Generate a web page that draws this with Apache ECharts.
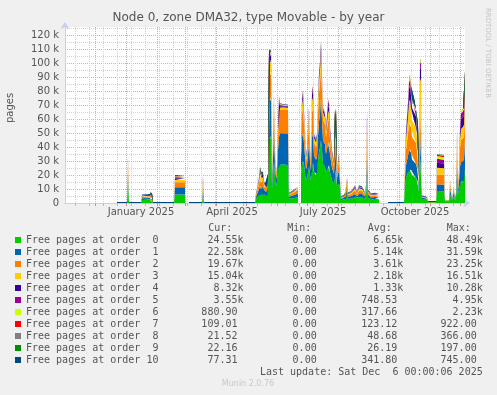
<!DOCTYPE html>
<html>
<head>
<meta charset="utf-8">
<script src="https://cdn.jsdelivr.net/npm/echarts@6/dist/echarts.min.js"></script>
<style>
html,body{margin:0;padding:0;background:#F0F0F0;}
#c{width:497px;height:395px;}
</style>
</head>
<body>
<div id="c"></div>
<script>
// ---- days since 2024-11-01 (x positions of samples) ----
const days = [52,62,63,64,76,77,85,86,87,88,
109,110,120,121,123,124,137,138,139,190,
191,192,193,194,195,196,197,198,199,200,
201,202,203,204,205,206,207,208,209,210,
211,212,213,214,215,218,223,224,229,233,
234,235,236,237,238,239,241,242,244,245,
246,247,248,249,251,252,253,254,255,256,
257,258,260,261,263,264,265,267,269,270,
271,272,274,275,276,279,281,282,283,286,
288,290,292,294,297,300,301,302,303,306,
310,314,315,322,323,339,340,341,343,344,
345,346,347,349,351,352,353,354,355,356,
357,362,363,371,372,379,380,384,385,386,
387,389,390,391,392,393,394,395,396,398,
399,400];

// ---- free pages (thousands) per order ----
const order0 = [0,0,14,0,0,2.2,2.3,2.9,2.7,0,
0,6.0,6.0,null,null,0,0,5,0,0,
3,4,5,6,7,6,6.5,7,6,5.5,
5,5,8,47.5,48.0,46,10,20,30,18,
12,15,24,28,27.5,27.5,27.2,3,3.5,4,
null,null,20,28,30,27,16,18,26,20,
16,28,29,22,20,21,30,36,40,45,
38,28,26,22,26,27,22,16,14,24,
24,12,14,10,2,2.5,3,6,3,3,
3.5,4,3,4,4,3,5,18,4,2.6,
2.8,2.6,null,null,0,0,12,18,22,25,
25.3,24,20,20,18,16,15,8,35,34,
3,2.5,0.5,0.5,8.6,8.4,1.2,1.2,6,4,
2,5,2,4,15,6,10,14,15,15.5,
16,24.55];
const order1 = [0,0,6,0,0,1.2,1.2,1.7,1.5,0,
0,5.2,5.2,null,null,0,0,4,0,0,
1.5,2.2,3,4,5,4,4.5,5,3.5,3,
3,2.8,5,27.5,27.5,27,4,12,22,10,
5,6,14,19,22.5,22.5,22.5,1.5,2.2,2.8,
null,null,12,19,20,16,8,9,17,10,
7,19,20,12,11,12,18,22,24,30,
22,17,16,13,17,17,13,9,7,16,
16,6,9,5,1,1.2,1.5,4,1.6,1.8,
2.2,2.5,1.8,2.5,2.4,1.6,3,15,2,1.4,
1.5,1.4,null,null,0,0,6,9,12,13,
13.5,12,11,11,10,9,9,4,20,20,
1,0.5,0.1,0.1,4.8,4.7,0.3,0.3,4.5,2.5,
0.6,3,0.6,2,12,3,6,12,14,14.5,
15,22.58];
const order2 = [0,0,7,0,0,1.0,1.1,1.6,1.4,0,
0,3.7,3.7,null,null,0,0,4.5,0,0,
1.2,1.8,2.8,3.8,5.5,4.5,4,4.5,2.8,2.3,
2.5,2,4,18.5,18.6,18.5,2,8,16,6,
2.5,3,10,16,16.5,17,17,1.2,1.8,2.6,
null,null,9,16,18,14,6,7,16,7,
5,18,18.5,9,9,10,17,21,22,23,
20,15,14,12,15,16,11,7,5,14,
14,3.5,7,3,0.6,0.8,1.2,4,1.3,1.5,
2,2.5,1.5,2.5,2.3,1.3,2.5,15,1.5,1.1,
1.2,1.1,null,null,0,0,6,11,16,19,
19.5,18,16,16,15,12,12,3,20,20,
0.5,0.3,0.05,0.05,7.1,7,0.2,0.2,3.5,2,
0.3,2.5,0.3,1,12,2,5,13,16,16,
16,19.67];
const order3 = [0,0,4,0,0,0.5,0.5,0.8,0.8,0,
0,1.6,1.6,null,null,0,0,3,0,0,
0.6,0.9,1.5,2.2,3.5,2.8,2.5,2.5,1.5,1.2,
1.2,1,2,8.5,8.6,8.5,1,3,6,2.5,
1,1.2,4,6,1.8,1.5,1.5,0.6,0.9,1.5,
null,null,4,7,7,5,2.5,3,6,2.5,
2,8,8,3.5,3.5,4,8,9,9,10,
7,5,5,4,6,6,4,3,2,7,
7,1.5,3,1.2,0.3,0.4,0.6,2,0.7,0.8,
1,1.5,0.8,1.5,1.3,0.7,1.2,9,0.8,0.6,
0.6,0.6,null,null,0,0,4,8,12,15,
16,14,12,12,11,9,10,1.5,14,13,
0.2,0.2,0,0,4.8,4.7,0.1,0.1,1.5,0.8,
0.1,1,0.1,0.4,8,0.8,2.5,7,8,8.5,
9,15.04];
const order4 = [0,0,2,0,0,0.2,0.2,0.3,0.3,0,
0,1.3,1.3,null,null,0,0,1.5,0,0,
0.3,0.4,0.6,1.2,2.5,1.8,1.5,1.8,0.8,0.5,
0.6,0.5,1,5,4.8,4.8,0.4,1.5,3,1,
0.5,0.5,2,4,1.0,0.8,0.8,0.3,0.4,0.6,
null,null,2,3.5,3.5,2.5,1,1.2,2.5,1,
0.8,5,5,1.5,1.5,1.5,3,3.5,4,6,
3,2,2,1.8,4,4,2.5,1.5,1,4,
4.5,0.6,1.5,0.5,0.1,0.2,0.3,1.5,0.3,0.4,
0.6,0.8,0.4,0.8,0.7,0.3,0.5,6,0.4,0.3,
0.3,0.3,null,null,0,0,2,4,7,9.5,
10,9,9,9.5,8,6,7,0.8,9,9,
0.1,0.1,0,0,3.6,3.5,0.05,0.05,0.7,0.3,
0.05,0.4,0.05,0.2,4,0.4,1,5,7,7,
7,8.32];
const order5 = [0,0,1,0,0,0.1,0.1,0.15,0.15,0,
0,0.6,0.6,null,null,0,0,1,0,0,
0.1,0.2,0.3,0.6,1.6,1,0.6,0.8,0.3,0.2,
0.2,0.2,0.4,1.6,1.7,1.6,0.2,0.5,1,0.4,
0.2,0.2,0.8,2.5,0.8,0.5,0.5,0.1,0.15,0.2,
null,null,0.8,1.5,1.6,1,0.4,0.5,1,0.4,
0.3,2,2,0.6,0.5,0.6,1,1.2,1.5,2.2,
1,0.8,0.8,0.7,3,3.2,1.5,0.6,0.4,1.5,
1.5,0.2,0.6,0.2,0.05,0.1,0.1,1,0.1,0.2,
0.3,0.5,0.2,0.4,0.3,0.15,0.2,3,0.2,0.1,
0.2,0.1,null,null,0,0,0.8,1.5,2.5,4.5,
4.9,4.5,4.5,4.6,3.5,2.5,2.5,0.3,3.5,3.5,
0.05,0.05,0,0,2.8,2.7,0.02,0.02,0.3,0.1,
0.02,0.1,0.02,0.1,1.5,0.2,0.4,2.5,4,4,
3.8,3.55];
const order6 = [0,0,0.4,0,0,0.05,0.05,0.05,0.05,0,
0,0.4,0.4,null,null,0,0,0.4,0,0,
0.05,0.1,0.1,0.2,0.6,0.3,0.2,0.3,0.1,0.1,
0.1,0.1,0.1,0.6,0.6,0.6,0.1,0.2,0.4,0.2,
0.1,0.1,0.3,0.5,0.6,0.4,0.4,0.05,0.05,0.1,
null,null,0.3,0.5,0.5,0.4,0.2,0.2,0.4,0.2,
0.1,0.6,0.6,0.2,0.2,0.2,0.3,0.4,0.5,0.8,
0.4,0.3,0.3,0.3,0.6,0.6,0.4,0.2,0.2,0.6,
0.6,0.1,0.2,0.1,0.02,0.05,0.05,0.3,0.05,0.1,
0.1,0.2,0.1,0.2,0.1,0.05,0.1,1,0.1,0.05,
0.05,0.05,null,null,0,0,0.3,0.5,1,2,
2.2,1.8,1.5,1.5,1.2,0.8,0.8,0.1,1.2,1.2,
0.02,0.02,0,0,1.9,1.8,0.01,0.01,0.1,0.05,
0.01,0.05,0.01,0.05,0.6,0.05,0.1,0.8,1.5,1.6,
1.4,0.881];
const order7 = [0,0,0.2,0,0,0.05,0.05,0.05,0.05,0,
0,0.3,0.3,null,null,0,0,0.2,0,0,
0.05,0.05,0.05,0.1,0.3,0.1,0.1,0.1,0.05,0.05,
0.05,0.05,0.05,0.3,0.3,0.3,0.05,0.1,0.2,0.1,
0.05,0.05,0.1,0.2,0.2,0.2,0.2,0.02,0.02,0.05,
null,null,0.1,0.2,0.2,0.2,0.1,0.1,0.2,0.1,
0.05,0.3,0.3,0.1,0.1,0.1,0.1,0.2,0.2,0.3,
0.2,0.1,0.1,0.1,0.2,0.2,0.1,0.1,0.1,0.2,
0.2,0.05,0.1,0.05,0.01,0.02,0.02,0.1,0.02,0.05,
0.05,0.1,0.05,0.1,0.05,0.02,0.05,0.4,0.05,0.02,
0.02,0.02,null,null,0,0,0.1,0.2,0.3,0.5,
0.5,0.4,0.4,0.4,0.3,0.2,0.2,0.05,0.3,0.3,
0.01,0.01,0,0,0.9,0.88,0,0,0.05,0.02,
0,0.02,0,0.02,0.2,0.02,0.05,0.1,0.1,0.1,
0.1,0.109];
const order8 = [0,0,0.1,0,0,0.02,0.02,0.02,0.02,0,
0,0.1,0.1,null,null,0,0,0.1,0,0,
0.02,0.02,0.02,0.05,0.1,0.05,0.05,0.05,0.02,0.02,
0.02,0.02,0.02,0.1,0.1,0.1,0.02,0.05,0.1,0.05,
0.02,0.02,0.05,0.1,0.1,0.1,0.1,0.01,0.01,0.02,
null,null,0.05,0.1,0.1,0.1,0.05,0.05,0.1,0.05,
0.02,0.1,0.1,0.05,0.05,0.05,0.05,0.1,0.1,0.1,
0.1,0.05,0.05,0.05,0.1,0.1,0.05,0.05,0.05,0.1,
0.1,0.02,0.05,0.02,0.01,0.01,0.01,0.05,0.01,0.02,
0.02,0.05,0.02,0.05,0.02,0.01,0.02,0.1,0.02,0.01,
0.01,0.01,null,null,0,0,0.05,0.1,0.1,0.2,
0.2,0.2,0.1,0.1,0.1,0.1,0.1,0.02,0.1,0.1,
0.01,0.01,0,0,0.35,0.33,0,0,0.02,0.01,
0,0.01,0,0.01,0.1,0.01,0.02,0.02,0.02,0.02,
0.02,0.0215];
const order9 = [0,0,0.05,0,0,0.01,0.01,0.01,0.01,0,
0,0.1,0.1,null,null,0,0,0.05,0,0,
0.02,0.02,0.02,0.02,0.05,0.02,0.02,0.02,0.02,0.02,
0.02,0.02,0.02,0.05,0.05,0.05,0.02,0.02,0.05,0.02,
0.02,0.02,0.02,0.05,0.05,0.05,0.05,0.01,0.01,0.01,
null,null,0.02,0.05,0.05,0.05,0.02,0.02,0.05,0.02,
0.02,0.05,0.05,0.02,0.02,0.02,0.02,0.05,0.05,0.05,
0.05,0.02,0.02,0.02,0.05,0.05,0.02,0.02,0.02,0.05,
0.05,0.02,0.02,0.02,0.01,0.01,0.01,0.02,0.01,0.01,
0.01,0.02,0.01,0.02,0.01,0.01,0.01,0.05,0.01,0.01,
0.01,0.01,null,null,0,0,0.02,0.05,0.05,0.1,
0.1,0.1,0.05,0.05,0.05,0.05,0.05,0.01,0.05,0.05,
0.01,0.01,0,0,0.19,0.18,0,0,0.01,0.01,
0,0.01,0,0.01,0.05,0.01,0.01,0.02,0.02,0.02,
0.02,0.0222];
const order10 = [0.74,0.74,0.74,0.74,0.74,0.7,0.7,0.7,0.7,0.74,
0.74,0.74,0.74,null,null,0.74,0.74,0.74,0.74,0.74,
0.6,0.6,0.6,0.6,0.6,0.6,0.6,0.6,0.6,0.6,
0.6,0.6,0.6,0.3,0.3,0.3,0.5,0.5,0.4,0.5,
0.5,0.5,0.4,0.4,0.3,0.3,0.3,0.5,0.5,0.5,
null,null,0.4,0.3,0.3,0.3,0.4,0.4,0.3,0.4,
0.4,0.3,0.3,0.4,0.4,0.4,0.3,0.3,0.3,0.3,
0.3,0.3,0.3,0.3,0.3,0.3,0.3,0.4,0.4,0.3,
0.3,0.4,0.4,0.4,0.6,0.6,0.6,0.5,0.6,0.6,
0.6,0.6,0.6,0.6,0.6,0.6,0.6,0.4,0.6,0.6,
0.6,0.6,null,null,0.74,0.74,0.3,0.2,0.1,0.1,
0.1,0.1,0.1,0.1,0.1,0.1,0.1,0.3,0.1,0.1,
0.6,0.6,0.74,0.74,0.1,0.1,0.3,0.3,0.2,0.3,
0.4,0.3,0.4,0.4,0.2,0.3,0.2,0.1,0.1,0.1,
0.1,0.0773];

const seriesNames = ['Free pages at order  0','Free pages at order  1','Free pages at order  2',
'Free pages at order  3','Free pages at order  4','Free pages at order  5','Free pages at order  6',
'Free pages at order  7','Free pages at order  8','Free pages at order  9','Free pages at order 10'];
const seriesColors = ['#00CC00','#0066B3','#FF8000','#FFCC00','#330099','#990099','#CCFF00',
'#FF0000','#808080','#008F00','#00487D'];

// ---- legend statistics ----
const curVals = ['24.55k','22.58k','19.67k','15.04k','8.32k','3.55k','880.90','109.01','21.52','22.16','77.31'];
const minVals = ['0.00','0.00','0.00','0.00','0.00','0.00','0.00','0.00','0.00','0.00','0.00'];
const avgVals = ['6.65k','5.14k','3.61k','2.18k','1.33k','748.53','317.66','123.12','48.68','26.19','341.80'];
const maxVals = ['48.49k','31.59k','23.25k','16.51k','10.28k','4.95k','2.23k','922.00','366.00','197.00','745.00'];

// ---- x axis ticks ----
const monthStartDays = [30,61,92,120,151,181,212,242,273,304,334,365,395];
const minorGridDays = [10,24,38,52,66,80,94,108,122,136,150,164,178,192,206,220,234,248,262,276,290,304,318,332,346,360,374,388];
const xLabelDays = [76,167,258,350];
const xLabelTexts = ['January 2025','April 2025','July 2025','October 2025'];

const seriesValues = [order0,order1,order2,order3,order4,order5,order6,order7,order8,order9,order10];

const chart = echarts.init(document.getElementById('c'), null, {renderer:'canvas', width:497, height:395});
const dayCats = Array.from({length:401}, (_, i) => String(i));
const txt = '#555555';
const mono = '10px "DejaVu Sans Mono"';

const graphics = [];
graphics.push({type:'text', x:10, y:108, rotation:Math.PI/2,
  style:{text:'pages', fill:txt, font:'10px "DejaVu Sans"', align:'center', verticalAlign:'middle'}});
graphics.push({type:'text', x:488, y:53, rotation:-Math.PI/2,
  style:{text:'RRDTOOL / TOBI OETIKER', fill:'#c4c4c4', font:'7px "DejaVu Sans"', align:'center', verticalAlign:'middle'}});
const headers = [['Cur:',208.3],['Min:',287.3],['Avg:',367.7],['Max:',446.7]];
headers.forEach(h => graphics.push({type:'text', x:h[1], y:228,
  style:{text:h[0], fill:txt, font:mono, align:'left', verticalAlign:'middle'}}));
const colRight = [243.5, 322.7, 403.3, 482.7];
const cols = [curVals, minVals, avgVals, maxVals];
const charW = 6.02;
for (let i = 0; i < 11; i++) {
  cols.forEach((col, c) => {
    const s = col[i];
    const xr = colRight[c] - (s.endsWith('k') ? 0 : charW);
    graphics.push({type:'text', x:xr, y:240 + 12*i,
      style:{text:s, fill:txt, font:mono, align:'right', verticalAlign:'middle'}});
  });
}
graphics.push({type:'text', x:482.7, y:372,
  style:{text:'Last update: Sat Dec  6 00:00:06 2025', fill:txt, font:mono, align:'right', verticalAlign:'middle'}});
graphics.push({type:'text', x:248, y:384,
  style:{text:'Munin 2.0.76', fill:'#c8c8c8', font:'8px "DejaVu Sans"', align:'center', verticalAlign:'middle'}});

const option = {
  animation:false,
  backgroundColor:'#F0F0F0',
  title:{text:'Node 0, zone DMA32, type Movable - by year', left:'center', top:12, padding:0,
    textStyle:{fontFamily:'DejaVu Sans', fontSize:12, fontWeight:'normal', color:txt}},
  grid:{left:65, right:32, top:27, bottom:192, show:true, backgroundColor:'#ffffff', borderWidth:0,
    containLabel:false, outerBoundsMode:'none'},
  legend:{orient:'vertical', left:15, top:234, padding:0, itemGap:0, itemWidth:6, itemHeight:6,
    icon:'rect', selectedMode:false, data:seriesNames,
    textStyle:{fontFamily:'DejaVu Sans Mono', fontSize:10, color:txt, lineHeight:12}},
  xAxis:[
    {type:'category', data:dayCats, boundaryGap:false, position:'bottom',
      axisLine:{show:true, lineStyle:{color:'#c8d0f4', width:1}, symbol:['none','arrow'], symbolSize:[7,7], symbolOffset:[0,5]},
      axisTick:{show:false}, axisLabel:{show:false}, splitLine:{show:false}},
    {type:'category', data:dayCats, boundaryGap:false, position:'bottom',
      axisLine:{show:false},
      axisTick:{show:true, length:3, interval:(i) => minorGridDays.includes(i), lineStyle:{color:'#bbbbbb'}},
      axisLabel:{show:false},
      splitLine:{show:true, interval:(i) => minorGridDays.includes(i), lineStyle:{color:'#d2d2d2', type:[1,1], width:1}}},
    {type:'category', data:dayCats, boundaryGap:false, position:'bottom',
      axisLine:{show:false},
      axisTick:{show:true, length:3, interval:(i) => monthStartDays.includes(i), lineStyle:{color:'#e08a8a'}},
      axisLabel:{show:true, interval:(i) => xLabelDays.includes(i), margin:4,
        formatter:(v) => { const k = xLabelDays.indexOf(Number(v)); return k >= 0 ? xLabelTexts[k] : ''; },
        fontFamily:'DejaVu Sans', fontSize:10, color:txt},
      splitLine:{show:true, interval:(i) => monthStartDays.includes(i), lineStyle:{color:'#e8a4a4', type:[1,1], width:1}}}
  ],
  yAxis:{type:'value', min:0, max:126, interval:5,
    axisLine:{show:true, lineStyle:{color:'#c8d0f4', width:1}, symbol:['none','arrow'], symbolSize:[7,7], symbolOffset:[0,5]},
    axisTick:{show:false},
    axisLabel:{margin:6, fontFamily:'DejaVu Sans', fontSize:10, color:txt, showMaxLabel:false,
      formatter:(v) => (v % 10 === 0 ? (v === 0 ? '0' : v + ' k') : '')},
    splitLine:{show:true, showMinLine:false, showMaxLine:false,
      lineStyle:{color:['#d2d2d2','#e8a4a4'], type:[1,1], width:1}}},
  graphic:graphics,
  series:seriesValues.map((vals, k) => ({
    name:seriesNames[k], type:'line', stack:'pages', xAxisIndex:0, yAxisIndex:0,
    data:days.map((d, i) => [String(d), vals[i]]),
    symbol:'none', showSymbol:false, connectNulls:false, silent:true,
    color:seriesColors[k], itemStyle:{color:seriesColors[k]},
    lineStyle:{width:0, color:seriesColors[k]},
    areaStyle:{opacity:1, color:seriesColors[k]},
    emphasis:{disabled:true}
  }))
};
chart.setOption(option);
</script>
</body>
</html>
